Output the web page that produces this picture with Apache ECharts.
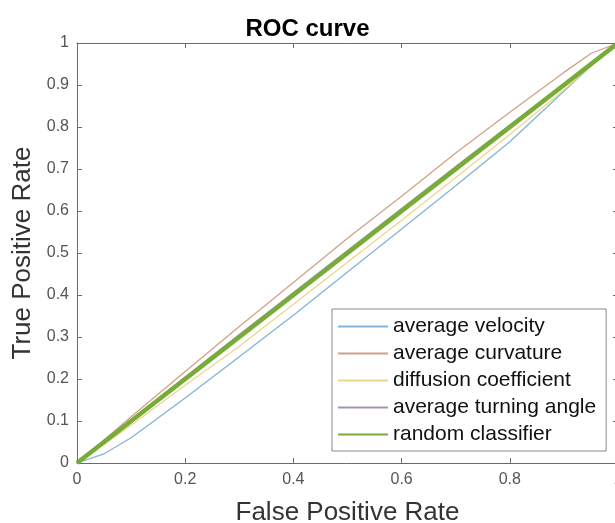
<!DOCTYPE html>
<html>
<head>
<meta charset="utf-8">
<script src="https://cdn.jsdelivr.net/npm/echarts@6/dist/echarts.min.js"></script>
<style>
  html, body { margin: 0; padding: 0; background: #fff; }
  #chart { width: 615px; height: 523px; }
</style>
</head>
<body>
<div id="chart"></div>
<script>
// false positive rate sampling points
const fpr = [0, 0.05, 0.1, 0.2, 0.3, 0.4, 0.5, 0.6, 0.7, 0.8, 0.9, 0.95, 1];
// true positive rate for each feature
const velocity  = [0, 0.022, 0.06, 0.155, 0.253, 0.352, 0.455, 0.557, 0.66, 0.765, 0.885, 0.945, 1];
const curvature = [0, 0.055, 0.11, 0.218, 0.325, 0.43, 0.535, 0.635, 0.738, 0.835, 0.93, 0.975, 1];
const diffusion = [0, 0.045, 0.09, 0.185, 0.278, 0.378, 0.478, 0.578, 0.68, 0.782, 0.888, 0.945, 1];
const turning   = [0, 0.051, 0.103, 0.205, 0.306, 0.406, 0.506, 0.606, 0.706, 0.805, 0.903, 0.951, 1];
const randomFpr = [0, 1];
const randomTpr = [0, 1];

const names = ['average velocity', 'average curvature', 'diffusion coefficient',
               'average turning angle', 'random classifier'];

function pairs(xs, ys) {
    return xs.map((x, i) => [x, ys[i]]);
}

const font = 'Liberation Sans, Arial, Helvetica, sans-serif';
const axisGray = '#6b6b6b';

let chart = echarts.init(document.getElementById('chart'));

function boxAxis(pos, interval, extra) {
    return Object.assign({
        type: 'value',
        position: pos,
        min: 0,
        max: 1,
        interval: interval,
        axisLine: { show: true, onZero: false, lineStyle: { color: axisGray, width: 1 } },
        axisTick: { show: true, inside: true, length: 5, lineStyle: { color: axisGray } },
        splitLine: { show: false },
        axisLabel: { show: false }
    }, extra || {});
}

let option = {
    animation: false,
    title: {
        text: 'ROC curve',
        left: 'center',
        top: 12,
        textStyle: { fontFamily: font, fontSize: 24, fontWeight: 'bold', color: '#000' }
    },
    grid: { left: 77, right: -3, top: 43, bottom: 60, outerBoundsMode: 'none', containLabel: false },
    legend: {
        orient: 'vertical',
        left: 332,
        top: 309,
        backgroundColor: '#fff',
        borderColor: '#8a8a8a',
        borderWidth: 1,
        padding: [7, 10, 6, 5],
        itemWidth: 50,
        itemHeight: 14,
        itemGap: 6,
        itemTextGap: 3,
        itemStyle: { opacity: 0 },
        data: names,
        textStyle: { fontFamily: font, fontSize: 21, color: '#111', lineHeight: 21 }
    },
    xAxis: [
        boxAxis('bottom', 0.2, {
            name: 'False Positive Rate',
            nameLocation: 'middle',
            nameGap: 37,
            nameTextStyle: { fontFamily: font, fontSize: 26, color: '#333' },
            axisLabel: { show: true, fontFamily: font, fontSize: 16, color: '#555', margin: 9 }
        }),
        boxAxis('top', 0.2)
    ],
    yAxis: [
        boxAxis('left', 0.1, {
            name: 'True Positive Rate',
            nameLocation: 'middle',
            nameGap: 32,
            nameTextStyle: { fontFamily: font, fontSize: 26, color: '#333' },
            axisLabel: { show: true, fontFamily: font, fontSize: 16, color: '#555', margin: 8 }
        }),
        boxAxis('right', 0.1)
    ],
    series: [
        { name: names[0], data: pairs(fpr, velocity), color: '#82b3da', width: 1.3 },
        { name: names[1], data: pairs(fpr, curvature), color: '#d3a088', width: 1.3 },
        { name: names[2], data: pairs(fpr, diffusion), color: '#efd58c', width: 1.3 },
        { name: names[3], data: pairs(fpr, turning), color: '#a593b3', width: 1.3 },
        { name: names[4], data: pairs(randomFpr, randomTpr), color: '#77ac36', width: 4.5 }
    ].map(s => ({
        name: s.name,
        type: 'line',
        data: s.data,
        symbol: 'none',
        smooth: false,
        color: s.color,
        lineStyle: { color: s.color, width: s.width }
    }))
};

chart.setOption(option);
</script>
</body>
</html>
